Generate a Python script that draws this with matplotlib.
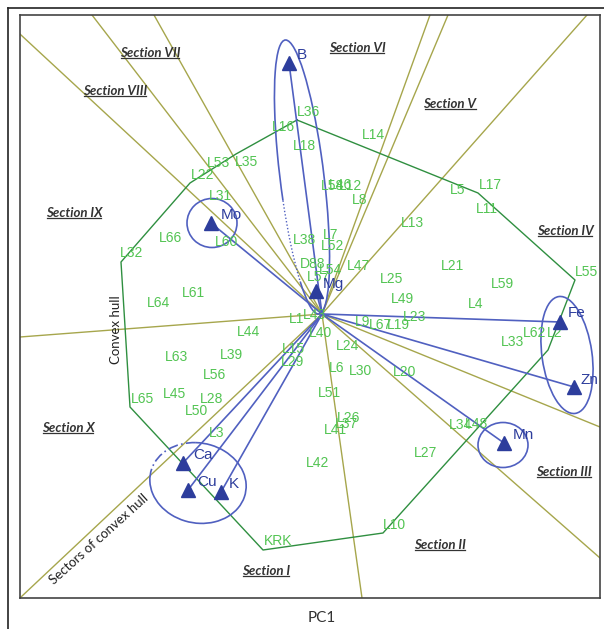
import matplotlib
matplotlib.use("Agg")
import matplotlib.pyplot as plt
from matplotlib.patches import Ellipse, Arc
from matplotlib.lines import Line2D
import numpy as np

# ---- data (PCA biplot, scores in plot units, origin at the centre) ----
def to_xy(px, py):
    return (px - 322) / 100.0, (314 - py) / 100.0

# sample scores (green labels)
sample_names = ["L36", "L16", "L18", "L14", "L53", "L35", "L22", "L31", "L5", "L17",
                "L11", "L58", "L46", "L12", "L8", "L13", "L66", "L60", "L32", "L38",
                "L7", "L52", "D88", "L54", "L57", "L47", "L21", "L55", "L25", "L59",
                "L64", "L61", "L49", "L4", "L23", "L1", "L43", "L44", "L9", "L67",
                "L19", "L62", "L2", "L33", "L40", "L24", "L15", "L29", "L63", "L39",
                "L56", "L6", "L30", "L20", "L65", "L45", "L28", "L50", "L51", "L26",
                "L37", "L41", "L34", "L48", "L27", "L3", "L42", "L10", "KRK"]
sample_px = [308, 283, 304, 373, 218, 246, 203, 220, 458, 490,
             487, 332, 340, 351, 360, 412, 170, 227, 132, 305,
             331, 333, 313, 330, 318, 359, 453, 586, 392, 502,
             158, 193, 402, 476, 415, 297, 315, 249, 363, 380,
             398, 535, 555, 513, 320, 348, 293, 293, 177, 231,
             214, 337, 360, 405, 143, 175, 212, 197, 329, 349,
             347, 335, 460, 477, 426, 217, 318, 394, 278]
sample_py = [112, 127, 146, 135, 163, 162, 175, 196, 190, 185,
             209, 186, 185, 186, 200, 223, 238, 242, 253, 240,
             235, 246, 264, 270, 277, 266, 266, 272, 279, 284,
             303, 293, 299, 304, 317, 319, 315, 332, 322, 325,
             325, 333, 333, 342, 333, 346, 349, 362, 357, 355,
             375, 368, 371, 372, 399, 394, 399, 411, 393, 418,
             424, 430, 425, 424, 453, 433, 463, 525, 541]

# variable loadings (blue arrows)
var_names = ["B", "Mo", "Mg", "Fe", "Zn", "Mn", "Ca", "Cu", "K"]
var_px = [289, 211, 316, 560, 574, 504, 183, 188, 221]
var_py = [63, 223, 291, 322, 387, 443, 463, 490, 492]
var_label_px = [302, 231, 333, 577, 589, 523, 203, 207, 234]
var_label_py = [55, 215, 284, 313, 380, 435, 455, 482, 484]

# sector boundary rays (end points on the frame)
ray_px = [21, 92, 154, 430, 448, 587, 600, 600, 362, 21, 20]
ray_py = [35, 15, 15, 15, 15, 15, 427, 558, 598, 597, 337]

# convex hull vertices
hull_px = [297, 478, 575, 548, 383, 263, 130, 121, 190, 236, 297]
hull_py = [120, 193, 280, 350, 533, 550, 407, 262, 183, 154, 120]

# section labels
section_names = ["Section I", "Section II", "Section III", "Section IV", "Section V",
                 "Section VI", "Section VII", "Section VIII", "Section IX", "Section X"]
section_px = [266, 440, 564, 565, 450, 357, 150, 115, 74, 68]
section_py = [571, 545, 472, 231, 104, 48, 53, 91, 213, 428]

# ---- styles ----
GREEN_TXT = "#52c452"
HULL = "#2f8f40"
OLIVE = "#a6a64c"
BLUE_LINE = "#5060c0"
BLUE = "#2d3d9c"
DARK = "#333333"

W, H = 604, 629
fig = plt.figure(figsize=(W / 100, H / 100), dpi=100)
ax = fig.add_axes([20 / W, 1 - 598 / H, 580 / W, 583 / H])
x0, _ = to_xy(20, 0)
x1, _ = to_xy(600, 0)
_, y0 = to_xy(0, 598)
_, y1 = to_xy(0, 15)
ax.set_xlim(x0, x1)
ax.set_ylim(y0, y1)
ax.set_xticks([])
ax.set_yticks([])
for s in ax.spines.values():
    s.set_color("#444444")
    s.set_linewidth(1.2)

# sector rays
for px, py in zip(ray_px, ray_py):
    ex, ey = to_xy(px, py)
    ax.plot([0, ex * 1.02], [0, ey * 1.02], color=OLIVE, lw=1.0, zorder=1)

# convex hull
hx, hy = zip(*[to_xy(a, b) for a, b in zip(hull_px, hull_py)])
ax.plot(hx, hy, color=HULL, lw=1.0, zorder=2)

# loading vectors
for px, py in zip(var_px, var_py):
    vx, vy = to_xy(px, py)
    ax.plot([0, vx], [0, vy], color=BLUE_LINE, lw=1.2, zorder=3)
vx, vy = zip(*[to_xy(a, b) for a, b in zip(var_px, var_py)])
ax.plot(vx, vy, linestyle="none", marker="^", markersize=10, color=BLUE, zorder=5)
for name, px, py in zip(var_names, var_label_px, var_label_py):
    tx, ty = to_xy(px, py)
    ax.text(tx, ty, name, color=BLUE, fontsize=11, family="Liberation Sans",
            ha="center", va="center", zorder=6)

# grouping ellipses
def ell(cpx, cpy, w, h, ang):
    cx, cy = to_xy(cpx, cpy)
    return (cx, cy), w / 100.0, h / 100.0, ang

c, w, h, a = ell(302, 177, 44, 276, 7)
ax.add_patch(Arc(c, w, h, angle=a, theta1=262, theta2=224 + 360, color=BLUE_LINE, lw=1.2, zorder=3))
ax.add_patch(Arc(c, w, h, angle=a, theta1=224, theta2=262, color=BLUE_LINE, lw=1.0,
                 linestyle=(0, (1, 1.5)), zorder=3))
c, w, h, a = ell(212, 223, 50, 49, 0)
ax.add_patch(Ellipse(c, w, h, angle=a, fill=False, color=BLUE_LINE, lw=1.2, zorder=3))
c, w, h, a = ell(567, 355, 50, 118, 8)
ax.add_patch(Ellipse(c, w, h, angle=a, fill=False, color=BLUE_LINE, lw=1.2, zorder=3))
c, w, h, a = ell(503, 445, 50, 45, 0)
ax.add_patch(Ellipse(c, w, h, angle=a, fill=False, color=BLUE_LINE, lw=1.2, zorder=3))
c, w, h, a = ell(198, 483, 97, 80, -12)
ax.add_patch(Arc(c, w, h, angle=a, theta1=175, theta2=105 + 360, color=BLUE_LINE, lw=1.2, zorder=3))
ax.add_patch(Arc(c, w, h, angle=a, theta1=105, theta2=175, color=BLUE_LINE, lw=1.2,
                 linestyle=(0, (6, 2, 1, 2)), zorder=3))

# sample labels
for name, px, py in zip(sample_names, sample_px, sample_py):
    tx, ty = to_xy(px, py)
    ax.text(tx, ty, name, color=GREEN_TXT, fontsize=10, family="Liberation Sans",
            ha="center", va="center", zorder=4)

# section labels
sec_texts = []
for name, px, py in zip(section_names, section_px, section_py):
    tx, ty = to_xy(px, py)
    t = ax.text(tx, ty, name, color=DARK, fontsize=9.5, family="Lato",
                fontweight="bold", fontstyle="italic", ha="center", va="center", zorder=6)
    sec_texts.append(t)

# annotations
tx, ty = to_xy(116, 330)
ax.text(tx, ty, "Convex hull", rotation=90, color="#222222", fontsize=9.5, family="Lato",
        ha="center", va="center", zorder=6)
tx, ty = to_xy(99, 539)
ax.text(tx, ty, "Sectors of convex hull", rotation=42, color="#222222", fontsize=9.5,
        family="Lato", ha="center", va="center", rotation_mode="anchor", zorder=6)

fig.text(322 / W, 1 - 618 / H, "PC1", color=DARK, fontsize=11, family="Lato",
         ha="center", va="center")

# outer frame
fig.add_artist(Line2D([8 / W, 1.0], [1 - 8 / H, 1 - 8 / H], color="#222222", lw=1.2))
fig.add_artist(Line2D([8 / W, 8 / W], [1 - 8 / H, 0.0], color="#222222", lw=1.2))

# underline the section labels
fig.canvas.draw()
inv = fig.transFigure.inverted()
for t in sec_texts:
    bb = t.get_window_extent()
    (ax0, ay0), (ax1, _) = inv.transform([(bb.x0 + 1, bb.y0 + 1), (bb.x1 - 1, bb.y0)])
    fig.add_artist(Line2D([ax0, ax1], [ay0, ay0], color=DARK, lw=0.9))

fig.savefig("out.png", dpi=100)
